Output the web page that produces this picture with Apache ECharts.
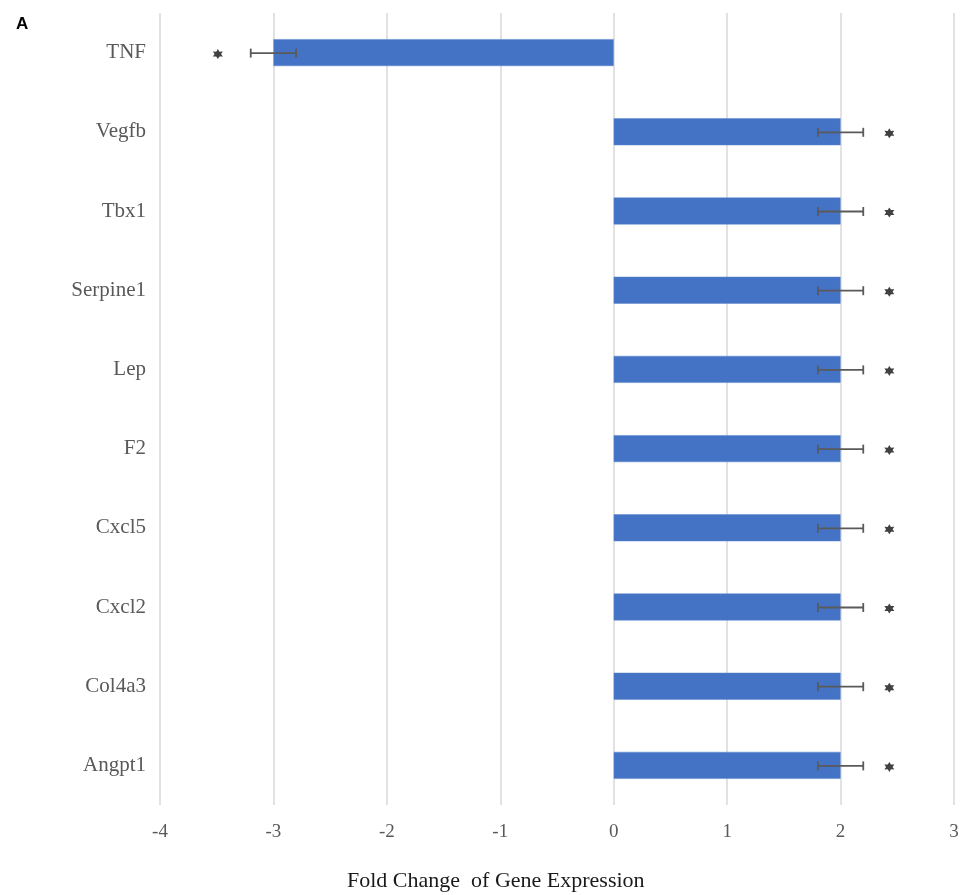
<!DOCTYPE html>
<html>
<head>
<meta charset="utf-8">
<script src="https://cdn.jsdelivr.net/npm/echarts@6/dist/echarts.min.js"></script>
<style>
  html, body { margin: 0; padding: 0; background: #fff; }
  #chart { width: 962px; height: 895px; }
</style>
</head>
<body>
<div id="chart"></div>
<script>
// Genes, listed top to bottom
const genes = ['TNF', 'Vegfb', 'Tbx1', 'Serpine1', 'Lep', 'F2', 'Cxcl5', 'Cxcl2', 'Col4a3', 'Angpt1'];
// Fold change per gene
const foldChange = [-3, 2, 2, 2, 2, 2, 2, 2, 2, 2];
// Standard error per gene
const errors = [0.2, 0.2, 0.2, 0.2, 0.2, 0.2, 0.2, 0.2, 0.2, 0.2];
// Position of the significance marker for each gene
const sigX = [-3.49, 2.43, 2.43, 2.43, 2.43, 2.43, 2.43, 2.43, 2.43, 2.43];
// Axis ticks
const xTicks = [-4, -3, -2, -1, 0, 1, 2, 3];

const serif = '"Liberation Serif", "Times New Roman", serif';

// six-pointed star used as the significance marker
function starPath() {
  const pts = [];
  for (let i = 0; i < 12; i++) {
    const a = Math.PI / 2 + i * Math.PI / 6;
    const r = i % 2 === 0 ? 10 : 5.6;
    pts.push((10 + r * Math.cos(a)).toFixed(2) + ' ' + (10 - r * Math.sin(a)).toFixed(2));
  }
  return 'path://M' + pts.join(' L') + ' Z';
}

const chart = echarts.init(document.getElementById('chart'));

chart.setOption({
  animation: false,
  title: [
    {
      text: 'A', left: 11, top: 11,
      textStyle: { fontFamily: 'Liberation Sans, Arial, sans-serif', fontWeight: 'bold', fontSize: 17, color: '#000' }
    },
    {
      text: 'Fold Change  of Gene Expression', left: 342, top: 865,
      textStyle: { fontFamily: serif, fontWeight: 'normal', fontSize: 22, color: '#1a1a1a' }
    }
  ],
  grid: { left: 160, right: 8, top: 13, bottom: 90, containLabel: false },
  xAxis: {
    type: 'value',
    min: xTicks[0],
    max: xTicks[xTicks.length - 1],
    interval: 1,
    axisLine: { show: false },
    axisTick: { show: false },
    splitLine: { show: true, lineStyle: { color: '#d9d9d9', width: 1.5 } },
    axisLabel: { fontFamily: serif, fontSize: 19, color: '#595959', margin: 18 }
  },
  yAxis: {
    type: 'category',
    data: genes,
    inverse: true,
    axisLine: { show: false, onZero: false },
    axisTick: { show: false },
    splitLine: { show: false },
    axisLabel: { fontFamily: serif, fontSize: 21, color: '#595959', margin: 14 }
  },
  series: [
    {
      type: 'bar',
      data: foldChange,
      barWidth: '34%',
      itemStyle: { color: '#4472C4', borderColor: '#5b86d0', borderWidth: 0.5 }
    },
    {
      type: 'custom',
      data: foldChange.map((v, i) => [i, v - errors[i], v + errors[i]]),
      encode: { x: [1, 2], y: 0 },
      z: 5,
      renderItem: function (params, api) {
        const idx = api.value(0);
        const p1 = api.coord([api.value(1), idx]);
        const p2 = api.coord([api.value(2), idx]);
        const y = p1[1] + 0.5;
        const h = 4.5;
        const style = { stroke: '#5a5a5a', lineWidth: 1.8 };
        return {
          type: 'group',
          children: [
            { type: 'line', shape: { x1: p1[0], y1: y, x2: p2[0], y2: y }, style: style },
            { type: 'line', shape: { x1: p1[0], y1: y - h, x2: p1[0], y2: y + h }, style: style },
            { type: 'line', shape: { x1: p2[0], y1: y - h, x2: p2[0], y2: y + h }, style: style }
          ]
        };
      }
    },
    {
      type: 'scatter',
      data: sigX.map((x, i) => [x, i]),
      symbol: starPath(),
      symbolSize: [10, 10],
      symbolOffset: [0, 1.5],
      itemStyle: { color: '#111' },
      z: 6
    }
  ]
});
</script>
</body>
</html>
